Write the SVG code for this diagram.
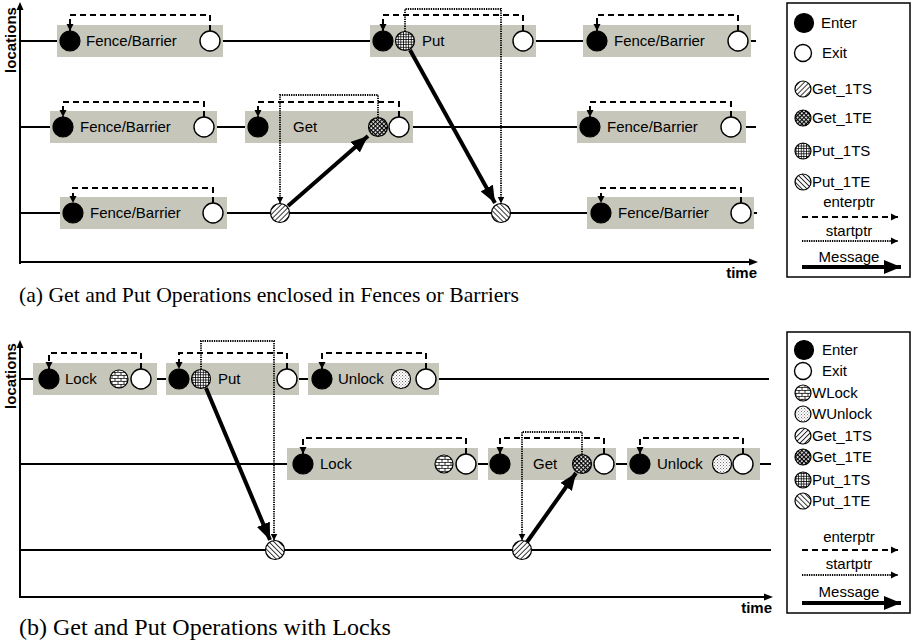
<svg xmlns="http://www.w3.org/2000/svg" width="918" height="641" viewBox="0 0 918 641">
<style>
text{font-family:"Liberation Sans",Arial,sans-serif;font-size:15px;fill:#000}
.b{font-weight:bold}
.cap{font-family:"Liberation Serif","Times New Roman",serif;font-size:22px}
.box{fill:#c6c6ba}
.tl{stroke:#000;stroke-width:2;fill:none}
.ax{stroke:#000;stroke-width:2;fill:none}
.en{fill:#000;stroke:#000;stroke-width:1.2}
.ex{fill:#fff;stroke:#000;stroke-width:1.4}
.ep{fill:none;stroke:#000;stroke-width:2;stroke-dasharray:6 4}
.sp{fill:none;stroke:#000;stroke-width:1.8;stroke-dasharray:1.3 1}
.msg{fill:none;stroke:#000;stroke-width:4}
.pc{stroke:#000;stroke-width:1.2}
.lg{fill:#fff;stroke:#000;stroke-width:1.5}
</style>
<defs>
<marker id="ah" markerUnits="userSpaceOnUse" markerWidth="8" markerHeight="8" refX="7" refY="4" orient="auto"><path d="M0,0.5 L7,4 L0,7.5 z" fill="#000"/></marker>
<marker id="am" markerUnits="userSpaceOnUse" markerWidth="18" markerHeight="14" refX="17" refY="7" orient="auto"><path d="M0,0 L17,7 L0,14 z" fill="#000"/></marker>
<pattern id="p_gts" patternUnits="userSpaceOnUse" width="3.5" height="3.5" patternTransform="rotate(-45)"><rect width="3.5" height="3.5" fill="#fff"/><line x1="0" y1="0.5" x2="3.5" y2="0.5" stroke="#000" stroke-width="0.8"/></pattern>
<pattern id="p_pte" patternUnits="userSpaceOnUse" width="3.5" height="3.5" patternTransform="rotate(45)"><rect width="3.5" height="3.5" fill="#fff"/><line x1="0" y1="0.5" x2="3.5" y2="0.5" stroke="#000" stroke-width="0.8"/></pattern>
<pattern id="p_gte" patternUnits="userSpaceOnUse" width="3" height="3" patternTransform="rotate(45)"><rect width="3" height="3" fill="#fff"/><line x1="0" y1="0.6" x2="3" y2="0.6" stroke="#000" stroke-width="1.2"/><line x1="0.6" y1="0" x2="0.6" y2="3" stroke="#000" stroke-width="1.2"/></pattern>
<pattern id="p_pts" patternUnits="userSpaceOnUse" width="2.6" height="2.6"><rect width="2.6" height="2.6" fill="#fff"/><line x1="0" y1="0.4" x2="2.6" y2="0.4" stroke="#000" stroke-width="0.8"/><line x1="0.4" y1="0" x2="0.4" y2="2.6" stroke="#000" stroke-width="0.8"/></pattern>
<pattern id="p_wl" patternUnits="userSpaceOnUse" width="6" height="6"><rect width="6" height="6" fill="#fff"/><line x1="0" y1="0.4" x2="6" y2="0.4" stroke="#000" stroke-width="0.8"/><line x1="0" y1="3.4" x2="6" y2="3.4" stroke="#000" stroke-width="0.8"/><line x1="1" y1="0" x2="1" y2="3" stroke="#000" stroke-width="0.8"/><line x1="4" y1="3" x2="4" y2="6" stroke="#000" stroke-width="0.8"/></pattern>
<pattern id="p_wu" patternUnits="userSpaceOnUse" width="3" height="3"><rect width="3" height="3" fill="#fff"/><rect x="0" y="0" width="0.9" height="0.9" fill="#555"/><rect x="1.5" y="1.5" width="0.9" height="0.9" fill="#777"/></pattern>
</defs>

<!-- ============ (a) ============ -->
<g id="axes-a">
<path class="ax" d="M20,264 V8"/><path d="M16.5,10 L20,2 L23.5,10 z"/>
<path class="ax" d="M20,262 H752"/><path d="M749,258.5 L758,262 L749,265.5 z"/>
<text class="b" x="757" y="278" text-anchor="end">time</text>
<text class="b" transform="translate(16,40) rotate(-90)" text-anchor="middle">locations</text>
</g>
<g id="timelines-a">
<line class="tl" x1="20" y1="41" x2="756" y2="41"/>
<line class="tl" x1="20" y1="127" x2="756" y2="127"/>
<line class="tl" x1="20" y1="213" x2="757" y2="213"/>
</g>

<g id="a-r1-fence1">
<rect class="box" x="57" y="25" width="166" height="32"/>
<circle class="en" cx="70" cy="41" r="10"/><circle class="ex" cx="210" cy="41" r="10"/>
<text x="86" y="46">Fence/Barrier</text>
</g>
<g id="a-r1-put">
<rect class="box" x="370" y="25" width="166" height="32"/>
<circle class="en" cx="383" cy="41" r="10"/><circle class="pc" fill="url(#p_pts)" cx="405" cy="41" r="9.5"/><circle class="ex" cx="523" cy="41" r="10"/>
<text x="422" y="46">Put</text>
</g>
<g id="a-r1-fence2">
<rect class="box" x="583" y="25" width="168" height="32"/>
<circle class="en" cx="597" cy="41" r="10"/><circle class="ex" cx="738" cy="41" r="10"/>
<text x="614" y="46">Fence/Barrier</text>
</g>
<g id="a-r2-fence1">
<rect class="box" x="50" y="111" width="167" height="32"/>
<circle class="en" cx="63" cy="127" r="10"/><circle class="ex" cx="204" cy="127" r="10"/>
<text x="80" y="132">Fence/Barrier</text>
</g>
<g id="a-r2-get">
<rect class="box" x="245" y="111" width="168" height="32"/>
<circle class="en" cx="258" cy="127" r="10"/><circle class="pc" fill="url(#p_gte)" cx="378" cy="127" r="9.5"/><circle class="ex" cx="399" cy="127" r="10"/>
<text x="293" y="132">Get</text>
</g>
<g id="a-r2-fence2">
<rect class="box" x="577" y="111" width="169" height="32"/>
<circle class="en" cx="590" cy="127" r="10"/><circle class="ex" cx="731" cy="127" r="10"/>
<text x="607" y="132">Fence/Barrier</text>
</g>
<g id="a-r3-fence1">
<rect class="box" x="60" y="197" width="167" height="32"/>
<circle class="en" cx="73" cy="213" r="10"/><circle class="ex" cx="213" cy="213" r="10"/>
<text x="90" y="218">Fence/Barrier</text>
</g>
<g id="a-r3-get1ts"><circle class="pc" fill="url(#p_gts)" cx="280" cy="213" r="9.5"/></g>
<g id="a-r3-put1te"><circle class="pc" fill="url(#p_pte)" cx="501" cy="213" r="9.5"/></g>
<g id="a-r3-fence2">
<rect class="box" x="587" y="197" width="167" height="32"/>
<circle class="en" cx="601" cy="213" r="10"/><circle class="ex" cx="741" cy="213" r="10"/>
<text x="618" y="218">Fence/Barrier</text>
</g>

<g id="connectors-a">
<path class="ep" d="M210,31 V15 H70 V31" marker-end="url(#ah)"/>
<path class="ep" d="M523,31 V15 H383 V31" marker-end="url(#ah)"/>
<path class="ep" d="M738,31 V15 H597 V31" marker-end="url(#ah)"/>
<path class="ep" d="M204,117 V102 H63 V117" marker-end="url(#ah)"/>
<path class="ep" d="M399,117 V102 H258 V117" marker-end="url(#ah)"/>
<path class="ep" d="M731,117 V102 H590 V117" marker-end="url(#ah)"/>
<path class="ep" d="M213,203 V188 H73 V203" marker-end="url(#ah)"/>
<path class="ep" d="M741,203 V188 H601 V203" marker-end="url(#ah)"/>
<path class="sp" d="M405,31.5 V9 H501 V203.5" marker-end="url(#ah)"/>
<path class="sp" d="M378,117.5 V95 H280 V203.5" marker-end="url(#ah)"/>
<path class="msg" d="M288,206 L368,136" marker-end="url(#am)"/>
<path class="msg" d="M410,50 L495,203" marker-end="url(#am)"/>
</g>

<g id="legend-a">
<rect class="lg" x="787" y="3" width="123" height="274"/>
<circle class="en" cx="804" cy="23" r="9.5"/><text x="821" y="28">Enter</text>
<circle class="ex" cx="803" cy="53" r="8.5"/><text x="822" y="58">Exit</text>
<circle class="pc" fill="url(#p_gts)" cx="803" cy="89" r="8"/><text x="812" y="94">Get_1TS</text>
<circle class="pc" fill="url(#p_gte)" cx="803" cy="118" r="8"/><text x="812" y="123">Get_1TE</text>
<circle class="pc" fill="url(#p_pts)" cx="803" cy="151" r="8"/><text x="812" y="156">Put_1TS</text>
<circle class="pc" fill="url(#p_pte)" cx="803" cy="182" r="8"/><text x="812" y="187">Put_1TE</text>
<text x="849" y="207" text-anchor="middle">enterptr</text>
<line class="ep" x1="802" y1="217" x2="898" y2="217" marker-end="url(#ah)"/>
<text x="849" y="236" text-anchor="middle">startptr</text>
<line class="sp" x1="802" y1="241" x2="898" y2="241" marker-end="url(#ah)"/>
<text x="849" y="262" text-anchor="middle">Message</text>
<line class="msg" x1="802" y1="267" x2="901" y2="267" marker-end="url(#am)"/>
</g>
<text class="cap" x="19" y="302" textLength="500" lengthAdjust="spacingAndGlyphs">(a) Get and Put Operations enclosed in Fences or Barriers</text>

<!-- ============ (b) ============ -->
<g id="axes-b">
<path class="ax" d="M20,598 V346"/><path d="M16.5,348 L20,340 L23.5,348 z"/>
<path class="ax" d="M20,597 H766"/><path d="M764,593.5 L773,597 L764,600.5 z"/>
<text class="b" x="772" y="613" text-anchor="end">time</text>
<text class="b" transform="translate(16,376) rotate(-90)" text-anchor="middle">locations</text>
</g>
<g id="timelines-b">
<line class="tl" x1="20" y1="379" x2="769" y2="379"/>
<line class="tl" x1="20" y1="464" x2="771" y2="464"/>
<line class="tl" x1="20" y1="550" x2="771" y2="550"/>
</g>

<g id="b-r1-lock">
<rect class="box" x="33" y="363" width="124" height="32"/>
<circle class="en" cx="49" cy="379" r="10"/><circle class="pc" fill="url(#p_wl)" cx="119" cy="379" r="9"/><circle class="ex" cx="141" cy="379" r="10"/>
<text x="65" y="384">Lock</text>
</g>
<g id="b-r1-put">
<rect class="box" x="166" y="363" width="133" height="32"/>
<circle class="en" cx="179" cy="379" r="10"/><circle class="pc" fill="url(#p_pts)" cx="201" cy="379" r="9.5"/><circle class="ex" cx="287" cy="379" r="10"/>
<text x="218" y="384">Put</text>
</g>
<g id="b-r1-unlock">
<rect class="box" x="308" y="363" width="131" height="32"/>
<circle class="en" cx="322" cy="379" r="10"/><circle class="pc" fill="url(#p_wu)" cx="401" cy="379" r="9.5"/><circle class="ex" cx="426" cy="379" r="10"/>
<text x="338" y="384">Unlock</text>
</g>
<g id="b-r2-lock">
<rect class="box" x="287" y="448" width="191" height="32"/>
<circle class="en" cx="303" cy="464" r="10"/><circle class="pc" fill="url(#p_wl)" cx="444" cy="464" r="9"/><circle class="ex" cx="466" cy="464" r="10"/>
<text x="320" y="469">Lock</text>
</g>
<g id="b-r2-get">
<rect class="box" x="488" y="448" width="128" height="32"/>
<circle class="en" cx="500" cy="464" r="10"/><circle class="pc" fill="url(#p_gte)" cx="582" cy="464" r="9.5"/><circle class="ex" cx="604" cy="464" r="10"/>
<text x="533" y="469">Get</text>
</g>
<g id="b-r2-unlock">
<rect class="box" x="627" y="448" width="133" height="32"/>
<circle class="en" cx="640" cy="464" r="10"/><circle class="pc" fill="url(#p_wu)" cx="722" cy="464" r="9.5"/><circle class="ex" cx="743" cy="464" r="10"/>
<text x="657" y="469">Unlock</text>
</g>
<g id="b-r3-put1te"><circle class="pc" fill="url(#p_pte)" cx="275" cy="550" r="9.5"/></g>
<g id="b-r3-get1ts"><circle class="pc" fill="url(#p_gts)" cx="522" cy="550" r="9.5"/></g>

<g id="connectors-b">
<path class="ep" d="M141,369 V353 H49 V369" marker-end="url(#ah)"/>
<path class="ep" d="M287,369 V353 H179 V369" marker-end="url(#ah)"/>
<path class="ep" d="M426,369 V353 H322 V369" marker-end="url(#ah)"/>
<path class="ep" d="M466,454 V438 H303 V454" marker-end="url(#ah)"/>
<path class="ep" d="M604,454 V438 H500 V454" marker-end="url(#ah)"/>
<path class="ep" d="M743,454 V438 H640 V454" marker-end="url(#ah)"/>
<path class="sp" d="M201,369.5 V341 H274 V540.5" marker-end="url(#ah)"/>
<path class="sp" d="M582,454.5 V432 H522 V540.5" marker-end="url(#ah)"/>
<path class="msg" d="M206,388 L270,540" marker-end="url(#am)"/>
<path class="msg" d="M527,542 L576,473" marker-end="url(#am)"/>
</g>

<g id="legend-b">
<rect class="lg" x="787" y="332" width="123" height="281"/>
<circle class="en" cx="804" cy="350" r="9.5"/><text x="822" y="355">Enter</text>
<circle class="ex" cx="803" cy="371" r="8.5"/><text x="822" y="376">Exit</text>
<circle class="pc" fill="url(#p_wl)" cx="803" cy="393" r="8"/><text x="812" y="398">WLock</text>
<circle class="pc" fill="url(#p_wu)" cx="803" cy="414" r="8"/><text x="812" y="419">WUnlock</text>
<circle class="pc" fill="url(#p_gts)" cx="803" cy="436" r="8"/><text x="812" y="441">Get_1TS</text>
<circle class="pc" fill="url(#p_gte)" cx="803" cy="457" r="8"/><text x="812" y="462">Get_1TE</text>
<circle class="pc" fill="url(#p_pts)" cx="803" cy="480" r="8"/><text x="812" y="485">Put_1TS</text>
<circle class="pc" fill="url(#p_pte)" cx="803" cy="501" r="8"/><text x="812" y="506">Put_1TE</text>
<text x="849" y="542" text-anchor="middle">enterptr</text>
<line class="ep" x1="802" y1="550" x2="898" y2="550" marker-end="url(#ah)"/>
<text x="849" y="569" text-anchor="middle">startptr</text>
<line class="sp" x1="802" y1="575" x2="898" y2="575" marker-end="url(#ah)"/>
<text x="849" y="597" text-anchor="middle">Message</text>
<line class="msg" x1="802" y1="603" x2="901" y2="603" marker-end="url(#am)"/>
</g>
<text class="cap" x="19" y="635" style="font-size:24px">(b) Get and Put Operations with Locks</text>
</svg>
